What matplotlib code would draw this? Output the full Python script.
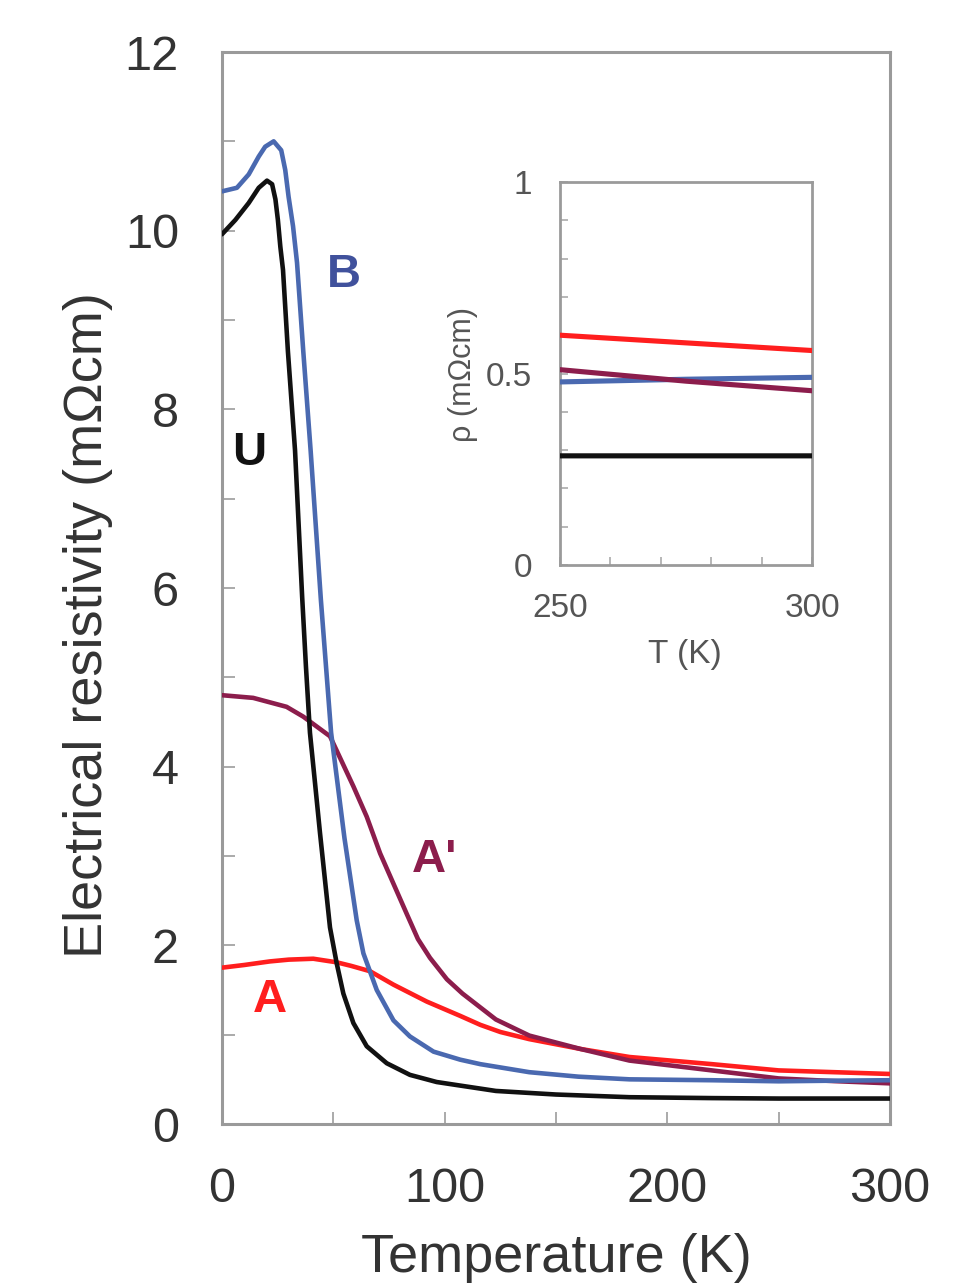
import matplotlib
matplotlib.use("Agg")
import matplotlib.pyplot as plt
from matplotlib.ticker import MultipleLocator

plt.rcParams['font.family'] = ['Liberation Sans', 'DejaVu Sans']

# ---- data ----
U_T = [0, 6, 12, 16.5, 20.2, 22.5, 24, 25.1, 26.2, 27.4, 29.6, 32.8, 36, 37.7, 39.5, 41.8, 44,
       48.5, 51.5, 54.5, 59, 65, 74, 84.4, 96.4, 107, 123, 150, 183, 220, 250, 275, 300]
U_rho = [9.96, 10.12, 10.31, 10.48, 10.56, 10.52, 10.35, 10.12, 9.82, 9.56, 8.65, 7.54, 5.9,
         5.12, 4.38, 3.81, 3.26, 2.2, 1.80, 1.46, 1.13, 0.87, 0.68, 0.55, 0.47, 0.43, 0.37,
         0.33, 0.30, 0.29, 0.285, 0.285, 0.285]

B_T = [0, 6.7, 12, 16.5, 19.4, 23.2, 26.6, 28.4, 29.9, 31.9, 33.7, 36.5, 39.8, 44.4, 49, 55,
       60.5, 63.5, 69.5, 77, 84.4, 95, 107, 116, 138, 160, 183, 220, 250, 275, 300]
B_rho = [10.44, 10.48, 10.63, 10.83, 10.94, 11.0, 10.9, 10.68, 10.38, 10.05, 9.64, 8.65, 7.54,
         5.87, 4.38, 3.2, 2.28, 1.91, 1.50, 1.16, 0.98, 0.81, 0.72, 0.67, 0.58, 0.53, 0.50,
         0.49, 0.478, 0.485, 0.49]

Ap_T = [0, 14, 29, 36.5, 48.5, 53, 59, 65, 71, 83, 88, 93.4, 101, 108, 123, 138, 161, 183, 220,
        250, 275, 300]
Ap_rho = [4.80, 4.77, 4.67, 4.56, 4.34, 4.10, 3.78, 3.44, 3.03, 2.35, 2.07, 1.86, 1.62, 1.46,
          1.17, 0.99, 0.84, 0.71, 0.60, 0.51, 0.48, 0.455]

A_T = [0, 10, 21.5, 30, 41, 51.5, 58, 66.5, 77, 92, 107, 116, 125, 138, 161, 183, 220, 250,
       275, 300]
A_rho = [1.75, 1.78, 1.82, 1.84, 1.85, 1.81, 1.77, 1.71, 1.56, 1.37, 1.21, 1.11, 1.03, 0.95,
         0.84, 0.75, 0.67, 0.60, 0.58, 0.56]

series_names = ["U", "B", "A'", "A"]
colors = {"U": "#111111", "B": "#4a69b0", "A'": "#8c1d4c", "A": "#ff1e1e"}
label_colors = {"U": "#111111", "B": "#40519c", "A'": "#8c1d4c", "A": "#ff1e1e"}
label_pos = {"U": (249, 453), "B": (344, 275), "A'": (435, 860), "A": (270, 1000)}  # pixel pos

main_xticks = [0, 100, 200, 300]
main_yticks = [0, 2, 4, 6, 8, 10, 12]
inset_xticks = [250, 300]
inset_yticks = [0, 0.5, 1]
inset_yticklabels = ['0', '0.5', '1']

W, H = 966, 1286
fig = plt.figure(figsize=(W / 100, H / 100), dpi=100)
fig.patch.set_facecolor('white')

spine_c = '#9a9a9a'
text_c = '#333333'

def fx(px):
    return px / W

def fy(py):
    return 1 - py / H

ax = fig.add_axes([fx(222), fy(1124), fx(890) - fx(222), fy(52) - fy(1124)])
data = {"U": (U_T, U_rho), "B": (B_T, B_rho), "A'": (Ap_T, Ap_rho), "A": (A_T, A_rho)}
order = ["A", "A'", "B", "U"]
for name in order:
    t, r = data[name]
    ax.plot(t, r, color=colors[name], lw=3.3, solid_capstyle='round',
            solid_joinstyle='round', zorder=3)

ax.set_xlim(0, 300)
ax.set_ylim(0, 12)
ax.set_xticks(main_xticks)
ax.set_yticks(main_yticks)
ax.xaxis.set_minor_locator(MultipleLocator(50))
ax.yaxis.set_minor_locator(MultipleLocator(1))
ax.tick_params(which='both', direction='in', length=9, width=1.4, color='#aaaaaa',
               top=False, right=False)
ax.tick_params(axis='x', which='major', pad=31, labelsize=35, labelcolor=text_c)
ax.tick_params(axis='y', which='major', pad=31, labelsize=35, labelcolor=text_c)
for s in ax.spines.values():
    s.set_color(spine_c)
    s.set_linewidth(2.2)

fig.text(fx(556), fy(1272), "Temperature (K)", ha='center', va='baseline',
         fontsize=39, color=text_c)
fig.text(fx(88), fy(625), "Electrical resistivity (m\u03a9cm)", ha='center', va='center',
         rotation=90, fontsize=39, color=text_c)

for name in series_names:
    px, py = label_pos[name]
    fig.text(fx(px), fy(py), name, ha='center', va='center', fontsize=34,
             fontweight='bold', color=label_colors[name])

# ---- inset ----
axi = fig.add_axes([fx(560), fy(565), fx(812) - fx(560), fy(182) - fy(565)])
for name in ["B", "A'", "A", "U"]:
    t, r = data[name]
    axi.plot(t, r, color=colors[name], lw=3.7, zorder=3)
axi.set_xlim(250, 300)
axi.set_ylim(0, 1)
axi.set_xticks(inset_xticks)
axi.set_yticks(inset_yticks, labels=inset_yticklabels)
axi.xaxis.set_minor_locator(MultipleLocator(10))
axi.yaxis.set_minor_locator(MultipleLocator(0.1))
axi.tick_params(which='both', direction='in', length=6, width=1.2, color='#aaaaaa',
                top=False, right=False)
axi.tick_params(axis='both', which='major', labelsize=24, labelcolor='#555555', pad=20)
for s in axi.spines.values():
    s.set_color(spine_c)
    s.set_linewidth(2.0)
axi.set_facecolor('white')

fig.text(fx(685), fy(663), "T (K)", ha='center', va='baseline', fontsize=24, color='#555555')
fig.text(fx(463), fy(374), "\u03c1 (m\u03a9cm)", ha='center', va='center', rotation=90,
         fontsize=22, color='#555555')

fig.savefig("out.png", dpi=100, facecolor='white')
